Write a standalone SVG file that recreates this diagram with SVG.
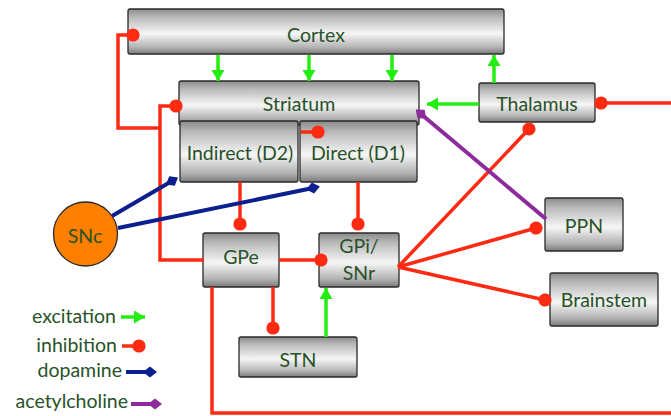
<svg xmlns="http://www.w3.org/2000/svg" width="671" height="416" viewBox="0 0 671 416">
  <style>
    .box { fill: url(#metal); stroke: #2a2a2a; stroke-width: 1.3; }
    .lbl { font-family: Lato, "Open Sans", sans-serif; font-size: 19.5px; fill: #285228; text-anchor: middle; }
    .leg { font-family: Lato, "Open Sans", sans-serif; font-size: 19.5px; fill: #285228; text-anchor: end; }
    .exc { fill: none; stroke: #22ee11; stroke-width: 3.5; marker-end: url(#arrow); }
    .inh { fill: none; stroke: #ff2a12; stroke-width: 3.5; }
    .dop { fill: none; stroke: #0c1f8e; stroke-width: 4; marker-end: url(#diamondBlue); }
    .ach { fill: none; stroke: #8d2a9c; stroke-width: 4; marker-end: url(#diamondPurple); }
    .dot { marker-end: url(#dot); }
  </style>
  <defs>
    <linearGradient id="metal" x1="0" y1="0" x2="0" y2="1">
      <stop offset="0" stop-color="#8a8a8a"/>
      <stop offset="0.18" stop-color="#b9b9b9"/>
      <stop offset="0.55" stop-color="#f6f6f6"/>
      <stop offset="0.85" stop-color="#b3b3b3"/>
      <stop offset="1" stop-color="#7a7a7a"/>
    </linearGradient>
    <marker id="arrow" markerUnits="userSpaceOnUse" markerWidth="12" markerHeight="14" refX="11" refY="7" orient="auto" viewBox="0 0 12 14">
      <path d="M0,0.5 L11,7 L0,13.5 z" fill="#22ee11"/>
    </marker>
    <marker id="dot" markerUnits="userSpaceOnUse" markerWidth="14" markerHeight="14" refX="7" refY="7" orient="auto" viewBox="0 0 14 14">
      <circle cx="7" cy="7" r="6.6" fill="#ff2a12"/>
    </marker>
    <marker id="diamondBlue" markerUnits="userSpaceOnUse" markerWidth="14" markerHeight="12" refX="7" refY="6" orient="auto" viewBox="0 0 14 12">
      <path d="M0,6 L7,0.5 L14,6 L7,11.5 z" fill="#0c1f8e"/>
    </marker>
    <marker id="diamondPurple" markerUnits="userSpaceOnUse" markerWidth="14" markerHeight="12" refX="7" refY="6" orient="auto" viewBox="0 0 14 12">
      <path d="M0,6 L7,0.5 L14,6 L7,11.5 z" fill="#8d2a9c"/>
    </marker>
  </defs>

  <g id="cortex">
    <rect class="box" x="128" y="9" width="376" height="45" rx="2"/>
    <text class="lbl" x="316" y="42">Cortex</text>
  </g>
  <g id="striatum">
    <rect class="box" x="179" y="81" width="240" height="44" rx="2"/>
    <text class="lbl" x="299" y="111">Striatum</text>
  </g>
  <g id="indirect">
    <rect class="box" x="180" y="121" width="118" height="61" rx="2"/>
    <text class="lbl" x="240" y="160">Indirect (D2)</text>
  </g>
  <g id="direct">
    <rect class="box" x="300" y="121" width="117" height="61" rx="2"/>
    <text class="lbl" x="358" y="160">Direct (D1)</text>
  </g>
  <g id="thalamus">
    <rect class="box" x="479" y="83" width="116" height="39" rx="2"/>
    <text class="lbl" x="537" y="111">Thalamus</text>
  </g>
  <g id="ppn">
    <rect class="box" x="545" y="198" width="78" height="53" rx="2"/>
    <text class="lbl" x="584" y="233">PPN</text>
  </g>
  <g id="brainstem">
    <rect class="box" x="550" y="273" width="108" height="53" rx="2"/>
    <text class="lbl" x="604" y="307">Brainstem</text>
  </g>
  <g id="gpe">
    <rect class="box" x="203" y="233" width="76" height="54" rx="2"/>
    <text class="lbl" x="241" y="264">GPe</text>
  </g>
  <g id="gpi">
    <rect class="box" x="319" y="233" width="80" height="54" rx="2"/>
    <text class="lbl" x="359" y="253">GPi/</text>
    <text class="lbl" x="359" y="280">SNr</text>
  </g>
  <g id="stn">
    <rect class="box" x="239" y="337" width="118" height="40" rx="2"/>
    <text class="lbl" x="298" y="367">STN</text>
  </g>
  <g id="snc">
    <circle cx="85.5" cy="234" r="32" fill="#ff8000" stroke="#2a2a2a" stroke-width="1.3"/>
    <text class="lbl" x="85" y="243">SNc</text>
  </g>

  <!-- connectors, drawn over the boxes so end dots sit on top -->
  <g id="connectors">
    <!-- GPi/SNr outputs -->
    <path class="inh dot" d="M398,267 L529,129"/>
    <path class="inh dot" d="M398,267 L536,228"/>
    <path class="inh dot" d="M398,267 L545,300"/>
    <!-- cholinergic input from PPN -->
    <path class="ach" d="M546,219 L421,114"/>
    <!-- cortex to striatum -->
    <path class="exc" d="M218,55 V81"/>
    <path class="exc" d="M309,55 V81"/>
    <path class="exc" d="M392,55 V81"/>
    <!-- thalamus to cortex and striatum -->
    <path class="exc" d="M494,83 V55"/>
    <path class="exc" d="M479,104 H427"/>
    <!-- thalamic output leaving to the right -->
    <path class="inh dot" d="M671,103 H601"/>
    <!-- loop from left side into cortex -->
    <path class="inh dot" d="M160,128 H118 V35 H133"/>
    <!-- GPe back to striatum -->
    <path class="inh dot" d="M204,260 H160 V106 H176"/>
    <!-- within striatum -->
    <path class="inh dot" d="M301,132 H318"/>
    <!-- striatum to GPe / GPi -->
    <path class="inh dot" d="M240,182 V224"/>
    <path class="inh dot" d="M358,182 V224"/>
    <!-- GPe to GPi -->
    <path class="inh dot" d="M279,260 H321"/>
    <!-- GPe to STN -->
    <path class="inh dot" d="M273,287 V328"/>
    <!-- STN to GPi -->
    <path class="exc" d="M326,337 V288"/>
    <!-- GPe loop along the bottom -->
    <path class="inh" d="M212,287 V413 H671"/>
    <!-- dopamine from SNc -->
    <path class="dop" d="M112,216 L172,181"/>
    <path class="dop" d="M118,228 L313,188"/>
  </g>

  <g id="legend">
    <text class="leg" x="116" y="323">excitation</text>
    <path class="exc" d="M121,317 H145"/>
    <text class="leg" x="117" y="352">inhibition</text>
    <path class="inh dot" d="M122,346 H139"/>
    <text class="leg" x="122" y="377">dopamine</text>
    <path class="dop" d="M126,372 H150"/>
    <text class="leg" x="128" y="408">acetylcholine</text>
    <path class="ach" d="M131,404 H155"/>
  </g>
</svg>
